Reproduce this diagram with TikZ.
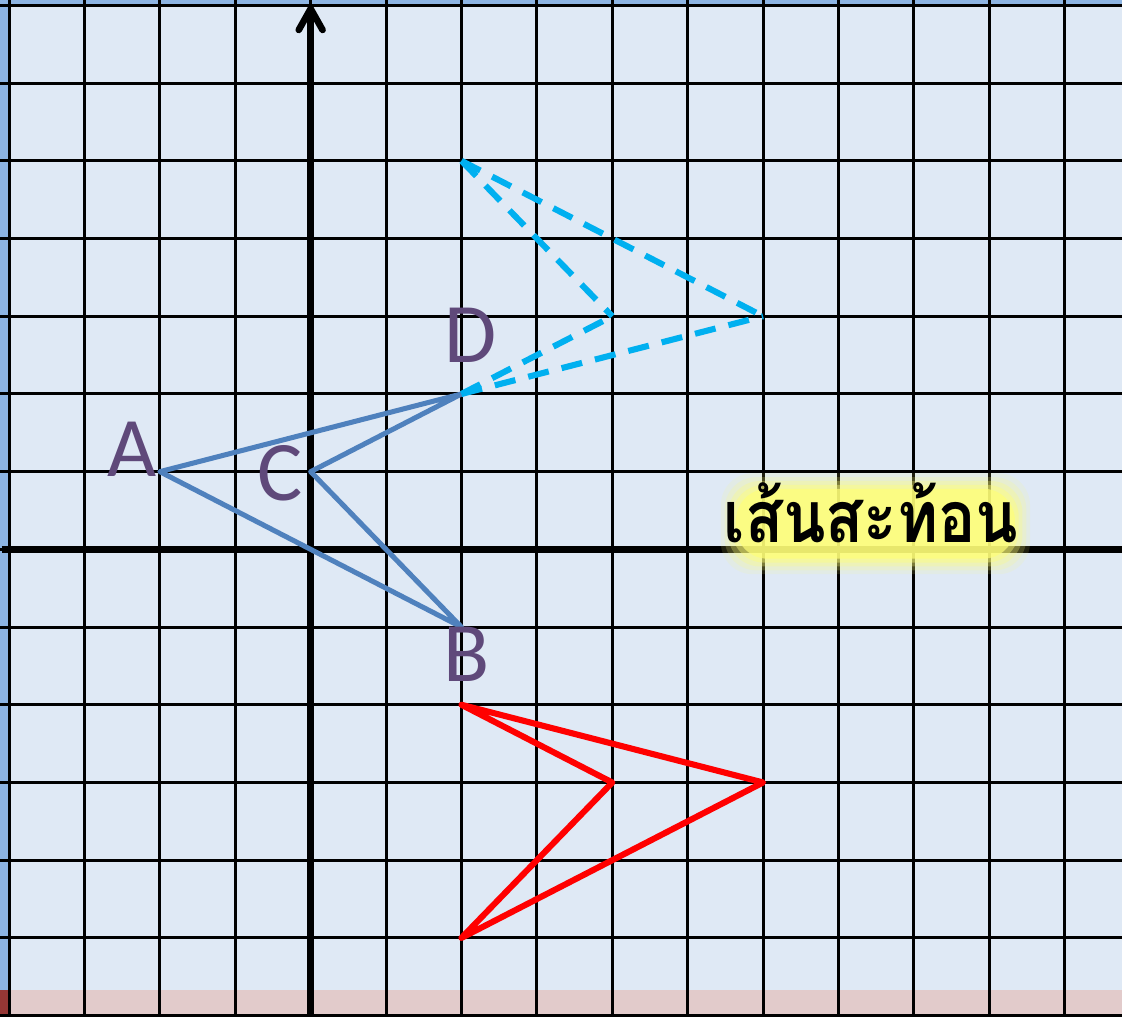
\documentclass[tikz,border=0pt]{standalone}
\usepackage{fontspec}
\usepackage{tikz}
\usetikzlibrary{arrows.meta,positioning,calc}
\newfontfamily\labelfont{Carlito}
\newfontfamily\thaifont[Script=Thai,FakeStretch=0.87]{Loma}
\definecolor{paper}{RGB}{223,233,245}
\definecolor{frameblue}{RGB}{141,180,226}
\definecolor{framered}{RGB}{149,55,53}
\definecolor{bandpink}{RGB}{226,203,203}
\definecolor{shapeblue}{RGB}{79,129,189}
\definecolor{imagecyan}{RGB}{0,176,240}
\definecolor{labelpurple}{RGB}{95,73,122}
\definecolor{glowyellow}{RGB}{255,255,120}

\begin{document}
\begin{tikzpicture}[x=1cm, y=1.0305cm,
    gridline/.style={black, line width=1.1pt},
    axisline/.style={black, line width=2.5pt},
    original/.style={shapeblue, line width=1.9pt, line join=round},
    mirrorimg/.style={red, line width=2.3pt, line join=round},
    turnimg/.style={imagecyan, line width=2.3pt, dash pattern=on 8pt off 5pt},
    ptlabel/.style={labelpurple, inner sep=0pt, font=\labelfont\fontsize{32}{32}\selectfont}]
    \useasboundingbox (-4.12,-6.01) rectangle (10.76,7.07);
    % background and frame
    \fill[paper] (-4.12,-6.01) rectangle (10.76,7.07);
    \fill[bandpink] (-4.12,-6.01) rectangle (10.76,-5.667);
    \fill[frameblue] (-4.12,7) rectangle (10.76,7.07);
    \fill[frameblue] (-4.12,-5.667) rectangle (-4,7.07);
    \fill[framered] (-4.12,-6.01) rectangle (-4,-5.667);
    % grid
    \foreach \x in {-4,...,10}
        \draw[gridline] (\x,-6.01) -- (\x,7.07);
    \foreach \y in {-6,...,7}
        \draw[gridline] (-4.12,\y) -- (10.76,\y);
    % axes
    \draw[axisline] (-4.1,0) -- (10.76,0);
    \draw[axisline, -{Straight Barb[length=8pt,width=9pt,round]}] (0,-6.01) -- (0,7);
    % vertices
    \coordinate (A) at (-2,1);
    \coordinate (C) at (0,1);
    \coordinate (D) at (2,2);
    \coordinate (B) at (2,-1);
    \coordinate (R1) at (2,-2);
    \coordinate (R2) at (4,-3);
    \coordinate (R3) at (6,-3);
    \coordinate (R4) at (2,-5);
    \coordinate (Q1) at (2,5);
    \coordinate (Q2) at (4,3);
    \coordinate (Q3) at (6,3);
    % shapes
    \draw[original] (A) -- (D) -- (C) -- (B) -- cycle;
    \draw[mirrorimg] (R1) -- (R2) -- (R4) -- (R3) -- cycle;
    \foreach \p/\q in {D/Q2, D/Q3, Q1/Q2, Q1/Q3}
        \draw[turnimg] (\p) -- (\q);
    % labels
    \node[ptlabel] (labelA) at (-2.37,1.29) {A};
    \node[ptlabel] (labelC) at (-0.41,0.98) {C};
    \node[ptlabel] (labelD) at (2.12,2.76) {D};
    \node[ptlabel] (labelB) at (2.07,-1.35) {B};
    % glow behind the mirror line label
    \coordinate (glowcenter) at (7.49,0.33);
    \foreach \g/\o in {0.2/0.12, 0.15/0.18, 0.1/0.28, 0.05/0.4, 0/0.7}
        \fill[glowyellow, opacity=\o, rounded corners=12pt]
            ($(glowcenter)+(-1.85-\g,-0.45-\g)$) rectangle ($(glowcenter)+(1.85+\g,0.45+\g)$);
    \node[anchor=base, inner sep=0pt, font=\thaifont\bfseries\fontsize{27}{27}\selectfont] (mirrorline) at (7.43,0.094) {เส้นสะท้อน};
\end{tikzpicture}
\end{document}
